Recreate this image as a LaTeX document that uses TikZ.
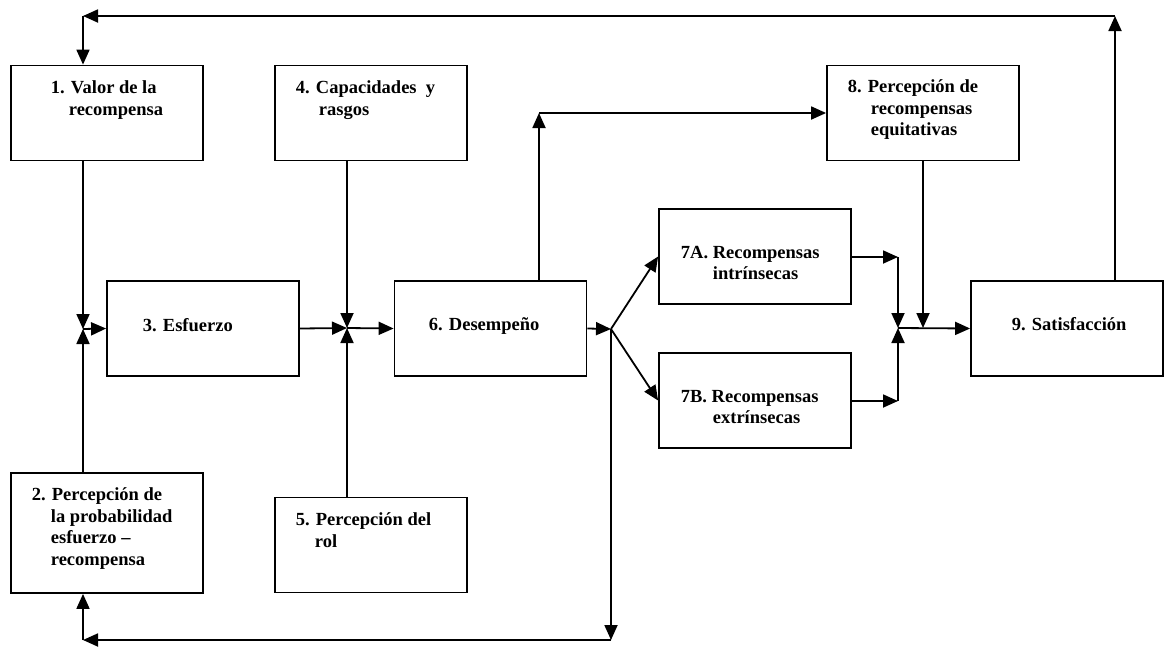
\documentclass[tikz,border=0pt]{standalone}
\usepackage{fontspec}
\setmainfont{Liberation Serif}
\usetikzlibrary{arrows.meta}

\tikzset{
  box/.style={draw, line width=1.8pt, minimum width=192pt, minimum height=95pt, inner sep=0pt},
  lbl/.style={anchor=north west, inner sep=0pt, align=left, font=\fontsize{18.5}{21.5}\selectfont\bfseries},
  arr/.style={-{Triangle[length=15pt,width=13pt]}},
}

\begin{document}
\begin{tikzpicture}[x=1pt,y=-1pt,line width=1.8pt]
		\useasboundingbox (0,0) rectangle (1165,646);
		% boxes
		\node[box] (b1) at (107,113) {};
		\node[box, minimum height=120pt] (b2) at (107,533) {};
		\node[box] (b3) at (203,328.5) {};
		\node[box] (b4) at (371,113) {};
		\node[box] (b5) at (371,545) {};
		\node[box] (b6) at (490.5,328.5) {};
		\node[box] (b7a) at (755,256.5) {};
		\node[box] (b7b) at (755,400.5) {};
		\node[box] (b8) at (923,113) {};
		\node[box] (b9) at (1067,328.5) {};

		% texts
		\node[lbl] (t1) at (50,80) {1. Valor de la\\\hspace*{18pt}recompensa};
		\node[lbl] (t2) at (31,487) {2. Percepción de\\\hspace*{19pt}la probabilidad\\\hspace*{19pt}esfuerzo --\\\hspace*{19pt}recompensa};
		\node[lbl] (t3) at (142,318) {3. Esfuerzo};
		\node[lbl] (t4) at (295,80) {4. Capacidades~ y\\\hspace*{23pt}rasgos};
		\node[lbl] (t5) at (295,512) {5. Percepción del\\\hspace*{19pt}rol};
		\node[lbl] (t6) at (428,317) {6. Desempeño};
		\node[lbl] (t7a) at (680,245) {7A. Recompensas\\\hspace*{32pt}intrínsecas};
		\node[lbl] (t7b) at (680,389) {7B. Recompensas\\\hspace*{32pt}extrínsecas};
		\node[lbl] (t8) at (847,79) {8. Percepción de\\\hspace*{23pt}recompensas\\\hspace*{23pt}equitativas};
		\node[lbl] (t9) at (1011,317) {9. Satisfacción};

		% junctions and corners
		\coordinate (j1) at (83,329);
		\coordinate (j2) at (347,328);
		\coordinate (j3) at (611,329);
		\coordinate (j4) at (898,328);
		\coordinate (ctl) at (83,16);
		\coordinate (ctr) at (1115,16);
		\coordinate (cbl) at (83,640);
		\coordinate (cbr) at (611,640);
		\coordinate (cup) at (539,113);
		\coordinate (c7a) at (898,257);
		\coordinate (c7b) at (898,401);

		% feedback loops
		\draw[arr] (ctr |- b9.north) -- (ctr);
		\draw[arr] (ctr) -- (ctl);
		\draw[arr] (ctl) -- (ctl |- b1.north);
		\draw[arr] (j3) -- (cbr);
		\draw[arr] (cbr) -- (cbl);
		\draw[arr] (cbl) -- (cbl |- b2.south);

		% into effort
		\draw[arr] (ctl |- b1.south) -- (j1);
		\draw[arr] (j1 |- b2.north) -- (j1);
		\draw[arr] (j1) -- (b3.west);

		% into performance
		\draw[arr] (b3.east) -- (j2);
		\draw[arr] (j2 |- b4.south) -- (j2);
		\draw[arr] (j2 |- b5.north) -- (j2);
		\draw[arr] (j2) -- (b6.west);

		% rewards
		\draw[arr] (b6.east) -- (j3);
		\draw[arr] (j3) -- (b7a.west);
		\draw[arr] (j3) -- (b7b.west);
		\draw[arr] (cup |- b6.north) -- (cup);
		\draw[arr] (cup) -- (b8.west);

		% into satisfaction
		\draw[arr] (b7a.east |- c7a) -- (c7a);
		\draw[arr] (c7a) -- (j4);
		\draw[arr] (b7b.east |- c7b) -- (c7b);
		\draw[arr] (c7b) -- (j4);
		\draw[arr] (b8.south) -- (b8.south |- j4);
		\draw[arr] (j4) -- (b9.west);
\end{tikzpicture}
\end{document}
